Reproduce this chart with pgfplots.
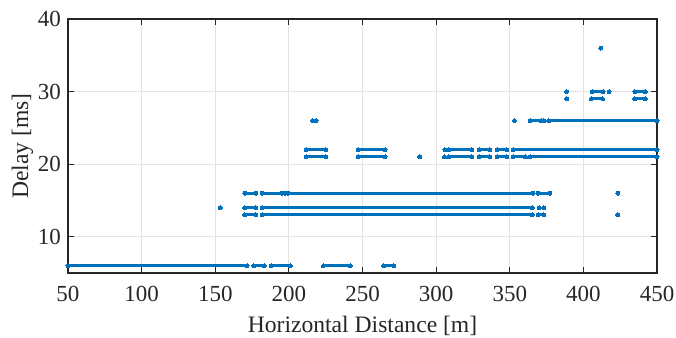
\documentclass[border=0pt]{standalone}
\usepackage{fontspec}
\setmainfont{Liberation Serif}
\usepackage{pgfplots}
\pgfplotsset{compat=1.18}
\usetikzlibrary{calc}
\definecolor{mblue}{HTML}{0072BD}
\definecolor{axc}{HTML}{262626}
\definecolor{gridc}{HTML}{E3E3E3}
\pgfplotsset{seg/.style={mblue, line width=1.5pt, line cap=round, mark=*, mark size=1pt, mark options={draw=none, fill=mblue, line width=0pt}}}
\begin{document}
\begin{tikzpicture}
\begin{axis}[
  scale only axis,
  width=294.5pt, height=127pt,
  xmin=50, xmax=450, ymin=5, ymax=40,
  xtick={50,100,...,450}, ytick={10,20,30,40},
  tick align=inside, tick pos=both,
  major tick length=3pt,
  grid=major,
  major grid style={gridc, line width=0.5pt},
  axis line style={axc, line width=0.6pt},
  tick style={axc, line width=0.5pt},
  every tick label/.append style={font=\fontsize{11.5}{13}\selectfont, text=axc},
  /pgf/number format/assume math mode=true,
  xticklabel style={yshift=-3pt},
  label style={font=\fontsize{11.8}{13}\selectfont, text=axc},
  xlabel={Horizontal Distance [m]},
  ylabel={Delay [ms]},
  xlabel style={yshift=-0.5pt},
  ylabel style={yshift=-4.5pt},
  unbounded coords=jump,
]
% y = 6
\addplot[seg] coordinates {
(50,6) (171.6,6) (nan,nan) (176,6) (183.4,6) (nan,nan) (188,6) (201,6) (nan,nan)
(223.5,6) (241.7,6) (nan,nan) (264.4,6) (271.3,6)
};
% y = 13
\addplot[seg] coordinates {
(170,13) (177.5,13) (nan,nan) (182,13) (365.2,13) (nan,nan) (369.3,13) (373.2,13) (nan,nan)
(423.4,13)
};
% y = 14
\addplot[seg] coordinates {
(153.5,14) (nan,nan) (170,14) (177.5,14) (nan,nan) (182,14) (365.2,14) (nan,nan)
(370,14) (nan,nan) (373.2,14)
};
% y = 16
\addplot[seg] coordinates {
(170,16) (177.5,16) (nan,nan) (181.8,16) (195.5,16) (nan,nan) (197.5,16) (nan,nan)
(199.5,16) (365.9,16) (nan,nan) (369.3,16) (377.3,16) (nan,nan) (423.4,16)
};
% y = 21
\addplot[seg] coordinates {
(211.8,21) (225,21) (nan,nan) (247,21) (265.3,21) (nan,nan) (288.9,21) (nan,nan)
(305.7,21) (nan,nan) (308.5,21) (324.3,21) (nan,nan) (329.3,21) (336.4,21) (nan,nan)
(341.4,21) (348,21) (nan,nan) (352.3,21) (360.7,21) (nan,nan) (364,21) (450,21)
};
% y = 22
\addplot[seg] coordinates {
(211.8,22) (225,22) (nan,nan) (247,22) (265.3,22) (nan,nan) (306,22) (nan,nan)
(308.5,22) (324.3,22) (nan,nan) (329.3,22) (336.4,22) (nan,nan)
(341.4,22) (348,22) (nan,nan) (352.3,22) (450,22)
};
% y = 26
\addplot[seg] coordinates {
(216,26) (nan,nan) (218.5,26) (nan,nan) (353.2,26) (nan,nan) (364,26) (371.4,26) (nan,nan)
(373.2,26) (nan,nan) (376.4,26) (450,26)
};
% y = 29
\addplot[seg] coordinates {
(388.6,29) (nan,nan) (405.5,29) (413,29) (nan,nan) (434.8,29) (442,29)
};
% y = 30
\addplot[seg] coordinates {
(388.6,30) (nan,nan) (406.1,30) (413.4,30) (nan,nan) (417.5,30) (nan,nan) (435,30) (442,30)
};
% y = 36
\addplot[seg, only marks] coordinates {
(411.8,36)
};
\end{axis}
\pgfresetboundingbox
\path[use as bounding box] ($(current axis.south west)+(-34pt,-32pt)$) rectangle ($(current axis.north east)+(9.5pt,9.5pt)$);
\end{tikzpicture}
\end{document}
